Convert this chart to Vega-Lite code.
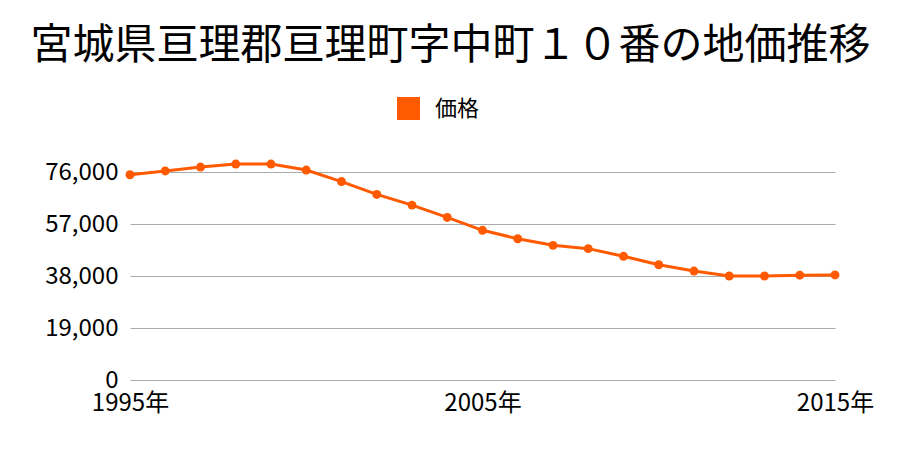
{
  "$schema": "https://vega.github.io/schema/vega-lite/v6.json",
  "width": 705,
  "height": 208,
  "autosize": {"type": "none"},
  "padding": {"left": 130, "top": 172, "right": 65, "bottom": 70},
  "background": "white",
  "title": {
    "text": "宮城県亘理郡亘理町字中町１０番の地価推移",
    "font": "Noto Sans CJK JP",
    "fontSize": 42,
    "fontWeight": "normal",
    "color": "#000000",
    "anchor": "middle",
    "dx": -32,
    "offset": 29
  },
  "config": {
    "view": {"stroke": null},
    "font": "Noto Sans CJK JP"
  },
  "data": {
    "values": [
      {"year": 1995, "price": 75000, "series": "価格"},
      {"year": 1996, "price": 76400, "series": "価格"},
      {"year": 1997, "price": 77800, "series": "価格"},
      {"year": 1998, "price": 78900, "series": "価格"},
      {"year": 1999, "price": 78900, "series": "価格"},
      {"year": 2000, "price": 76700, "series": "価格"},
      {"year": 2001, "price": 72500, "series": "価格"},
      {"year": 2002, "price": 67800, "series": "価格"},
      {"year": 2003, "price": 63900, "series": "価格"},
      {"year": 2004, "price": 59400, "series": "価格"},
      {"year": 2005, "price": 54700, "series": "価格"},
      {"year": 2006, "price": 51600, "series": "価格"},
      {"year": 2007, "price": 49200, "series": "価格"},
      {"year": 2008, "price": 48000, "series": "価格"},
      {"year": 2009, "price": 45200, "series": "価格"},
      {"year": 2010, "price": 42100, "series": "価格"},
      {"year": 2011, "price": 39800, "series": "価格"},
      {"year": 2012, "price": 38000, "series": "価格"},
      {"year": 2013, "price": 38000, "series": "価格"},
      {"year": 2014, "price": 38300, "series": "価格"},
      {"year": 2015, "price": 38400, "series": "価格"}
    ]
  },
  "encoding": {
    "x": {
      "field": "year",
      "type": "quantitative",
      "scale": {"domain": [1995, 2015], "nice": false, "zero": false},
      "axis": {
        "title": null,
        "values": [1995, 2005, 2015],
        "labelExpr": "datum.value + '年'",
        "grid": false,
        "domain": false,
        "ticks": false,
        "labelFontSize": 24,
        "labelColor": "#000000",
        "labelPadding": 11,
        "labelFont": "Noto Sans CJK JP",
        "labelFlush": false
      }
    },
    "y": {
      "field": "price",
      "type": "quantitative",
      "scale": {"domain": [0, 76000], "nice": false},
      "axis": {
        "title": null,
        "values": [0, 19000, 38000, 57000, 76000],
        "format": ",d",
        "grid": true,
        "gridColor": "#aaaaaa",
        "gridWidth": 1,
        "domain": false,
        "ticks": false,
        "labelFontSize": 24,
        "labelColor": "#000000",
        "labelPadding": 12,
        "labelFont": "Noto Sans CJK JP"
      }
    },
    "color": {
      "field": "series",
      "type": "nominal",
      "scale": {"range": ["#ff5a00"]},
      "legend": {
        "title": null,
        "orient": "none",
        "legendX": 267,
        "legendY": -75,
        "symbolType": "square",
        "symbolSize": 529,
        "symbolOpacity": 1,
        "symbolFillColor": "#ff5500",
        "symbolStrokeWidth": 0,
        "labelFontSize": 22,
        "labelColor": "#000000",
        "labelOffset": 15,
        "labelFont": "Noto Sans CJK JP"
      }
    }
  },
  "layer": [
    {"mark": {"type": "line", "strokeWidth": 3, "clip": false}},
    {"mark": {"type": "point", "filled": true, "size": 80, "opacity": 1, "clip": false}}
  ]
}
